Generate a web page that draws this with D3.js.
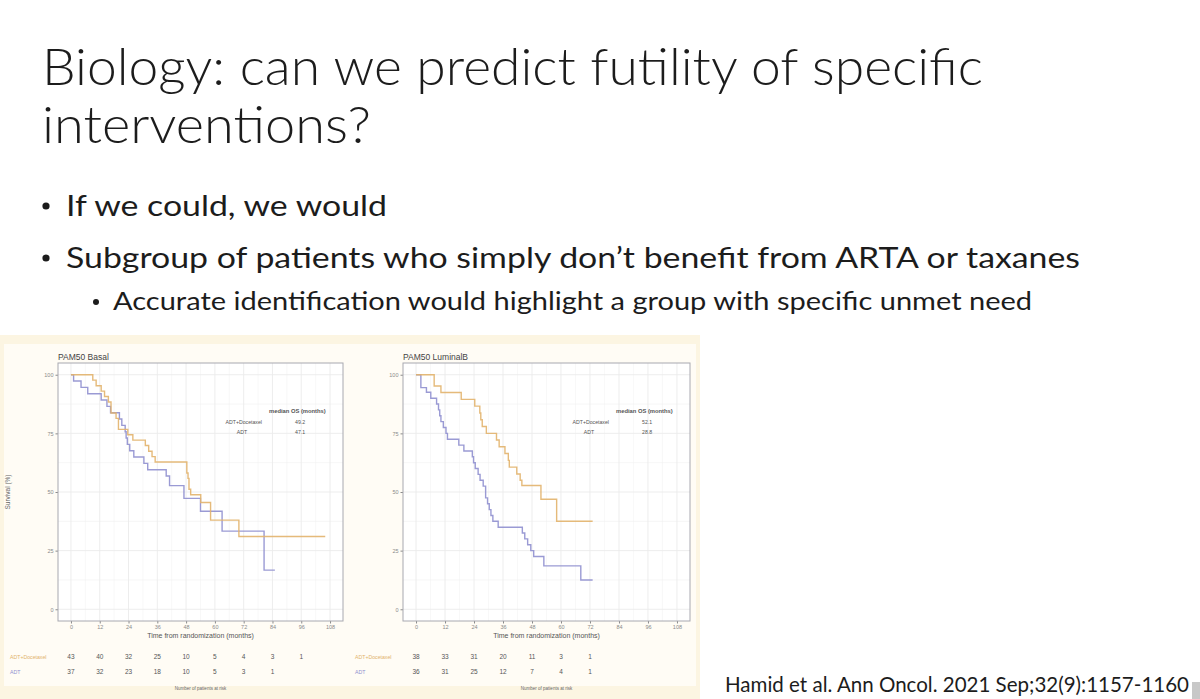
<!DOCTYPE html>
<html>
<head>
<meta charset="utf-8">
<script src="https://cdn.jsdelivr.net/npm/d3@7"></script>
<style>
  body { margin: 0; background: #fff; }
  svg { display: block; }
</style>
</head>
<body>
<script>
// ---- data ----
const xTicks = [0, 12, 24, 36, 48, 60, 72, 84, 96, 108];
const yTicks = [0, 25, 50, 75, 100];

// PAM50 Basal
const basalDocTimes = [0, 9.1, 10.5, 12.6, 14, 15.6, 16.7, 18.8, 19.8, 23.7, 25.8, 31, 32.4, 33.8, 35.1, 48.3, 48.8, 49.2, 49.9, 54.1, 58.2, 70, 106];
const basalDocSurv  = [100, 97.7, 95.3, 93, 90.7, 88.4, 83.7, 81.4, 76.7, 74.4, 72.1, 69.8, 67.4, 65.1, 62.8, 58.1, 55.8, 51.2, 48.8, 45.5, 38, 31, 31];
const basalAdtTimes = [0, 1.1, 4.2, 7, 12.6, 15, 16.5, 20.2, 21.2, 22.6, 23, 23.5, 24.5, 26.2, 30.4, 32, 39.7, 41.1, 47.1, 54, 63, 80.5, 85];
const basalAdtSurv  = [100, 97.3, 94.6, 91.9, 89.2, 86.5, 83.8, 81.1, 78.4, 75.7, 73, 70.3, 67.6, 64.9, 62.2, 59.5, 56.8, 52.7, 47.3, 41.8, 33.3, 16.7, 16.7];
const basalRiskDoc = [43, 40, 32, 25, 10, 5, 4, 3, 1];
const basalRiskAdt = [37, 32, 23, 18, 10, 5, 3, 1];
const basalMedians = ["49.2", "47.1"];

// PAM50 LuminalB
const lumbDocTimes = [0, 7.5, 10.3, 18.7, 24.3, 26.4, 26.8, 27.4, 29.1, 33.3, 34.4, 36.8, 38.2, 38.6, 41.7, 43.1, 43.8, 51.7, 58.2, 73.1];
const lumbDocSurv  = [100, 95.2, 92.4, 89.5, 86.6, 83.7, 80.8, 77.9, 75, 72.2, 69.3, 66.4, 63.5, 60.6, 57.7, 55, 52.8, 46.9, 37.5, 37.5];
const lumbAdtTimes = [0, 2, 4.3, 6.1, 8.5, 9.3, 9.8, 10.3, 11.3, 12.4, 13, 17.7, 19.8, 23.3, 23.8, 24.5, 25.7, 26.5, 27.8, 28.8, 29.6, 30.3, 31, 31.8, 34, 44, 45, 46.2, 47.5, 48.7, 52.9, 68.2, 73.1];
const lumbAdtSurv  = [100, 94.5, 92.5, 90, 87.5, 85, 82.5, 80, 77.5, 75, 72.5, 70, 67.5, 65, 62.5, 60, 57.5, 55, 52.5, 47.5, 45, 42.5, 40, 37.5, 35, 32.5, 30, 27.5, 25, 22.5, 18.5, 12.5, 12.5];
const lumbRiskDoc = [38, 33, 31, 20, 11, 3, 1];
const lumbRiskAdt = [36, 31, 25, 12, 7, 4, 1];
const lumbMedians = ["52.1", "28.8"];

const armLabels = ["ADT+Docetaxel", "ADT"];
const docColor = "#e2b26c";
const adtColor = "#8f8fcf";

const W = 1200, H = 699;
const svg = d3.select("body").append("svg")
  .attr("width", W)
  .attr("height", H);

svg.append("rect").attr("width", W).attr("height", H).attr("fill", "#fff");

// ---- slide text ----
const slideFont = "Lato, 'Open Sans', sans-serif";
const ink = "#1c1c1c";

const title = svg.append("g")
  .attr("font-family", slideFont)
  .attr("font-weight", 300)
  .attr("fill", ink)
  .attr("font-size", 51);
title.append("text").attr("x", 42).attr("y", 85)
  .attr("textLength", 941).attr("lengthAdjust", "spacingAndGlyphs")
  .text("Biology: can we predict futility of specific");
title.append("text").attr("x", 42).attr("y", 143)
  .attr("textLength", 329).attr("lengthAdjust", "spacingAndGlyphs")
  .text("interventions?");

const bullets = svg.append("g").attr("font-family", slideFont).attr("fill", ink);
bullets.append("circle").attr("cx", 46).attr("cy", 206).attr("r", 3.6).attr("fill", ink);
bullets.append("text").attr("x", 66).attr("y", 216).attr("font-size", 29)
  .attr("textLength", 321).attr("lengthAdjust", "spacingAndGlyphs")
  .text("If we could, we would");
bullets.append("circle").attr("cx", 46).attr("cy", 258).attr("r", 3.6).attr("fill", ink);
bullets.append("text").attr("x", 66).attr("y", 268).attr("font-size", 29)
  .attr("textLength", 1014).attr("lengthAdjust", "spacingAndGlyphs")
  .text("Subgroup of patients who simply don\u2019t benefit from ARTA or taxanes");
bullets.append("circle").attr("cx", 96).attr("cy", 302).attr("r", 3).attr("fill", ink);
bullets.append("text").attr("x", 113).attr("y", 310).attr("font-size", 25)
  .attr("textLength", 919).attr("lengthAdjust", "spacingAndGlyphs")
  .text("Accurate identification would highlight a group with specific unmet need");

svg.append("text")
  .attr("x", 725).attr("y", 692)
  .attr("font-family", slideFont).attr("font-size", 20.5).attr("fill", ink)
  .attr("textLength", 464).attr("lengthAdjust", "spacingAndGlyphs")
  .text("Hamid et al. Ann Oncol. 2021 Sep;32(9):1157-1160");

// small viewer icon in the corner
svg.append("rect").attr("x", 1192).attr("y", 682).attr("width", 8).attr("height", 17).attr("fill", "#c8c8c8");

// ---- embedded figure ----
svg.append("rect").attr("x", 0).attr("y", 335).attr("width", 700).attr("height", 364).attr("fill", "#fcf5e2");
svg.append("rect").attr("x", 4).attr("y", 344).attr("width", 692).attr("height", 342).attr("fill", "#fffcf5");

const plotFont = "'Liberation Sans', Arial, sans-serif";

function drawPanel(opt) {
  const x = d3.scaleLinear().domain([-5.4, 113.4]).range([opt.left, opt.right]);
  const y = d3.scaleLinear().domain([-5, 105]).range([621, 363]);
  const g = svg.append("g").attr("font-family", plotFont);

  g.append("rect")
    .attr("x", opt.left).attr("y", 363)
    .attr("width", opt.right - opt.left).attr("height", 258)
    .attr("fill", "#fff");

  // minor + major grid
  const xMinor = d3.range(6, 114, 12);
  const yMinor = [12.5, 37.5, 62.5, 87.5];
  g.selectAll(".vminor").data(xMinor).join("line")
    .attr("x1", d => x(d)).attr("x2", d => x(d)).attr("y1", 363).attr("y2", 621)
    .attr("stroke", "#f3f3f3").attr("stroke-width", 0.6);
  g.selectAll(".hminor").data(yMinor).join("line")
    .attr("y1", d => y(d)).attr("y2", d => y(d)).attr("x1", opt.left).attr("x2", opt.right)
    .attr("stroke", "#f0f0f0").attr("stroke-width", 0.6);
  g.selectAll(".vmajor").data(xTicks).join("line")
    .attr("x1", d => x(d)).attr("x2", d => x(d)).attr("y1", 363).attr("y2", 621)
    .attr("stroke", "#ebebeb").attr("stroke-width", 0.9);
  g.selectAll(".hmajor").data(yTicks).join("line")
    .attr("y1", d => y(d)).attr("y2", d => y(d)).attr("x1", opt.left).attr("x2", opt.right)
    .attr("stroke", "#ebebeb").attr("stroke-width", 0.9);

  // axes
  const xAxis = g.append("g").attr("transform", "translate(0,621)")
    .call(d3.axisBottom(x).tickValues(xTicks).tickSize(2.5).tickPadding(2));
  const yAxis = g.append("g").attr("transform", `translate(${opt.left},0)`)
    .call(d3.axisLeft(y).tickValues(yTicks).tickSize(2.5).tickPadding(2));
  [xAxis, yAxis].forEach(a => {
    a.select(".domain").remove();
    a.selectAll(".tick line").attr("stroke", "#8a8a8a");
    a.selectAll(".tick text").attr("fill", "#8a8a8a").attr("font-size", 5.5).attr("font-family", plotFont);
  });

  g.append("rect")
    .attr("x", opt.left).attr("y", 363)
    .attr("width", opt.right - opt.left).attr("height", 258)
    .attr("fill", "none").attr("stroke", "#a8a8b0").attr("stroke-width", 1);

  // curves
  const line = d3.line().curve(d3.curveStepAfter).x(d => x(d[0])).y(d => y(d[1]));
  const curves = [
    { t: opt.adtTimes, s: opt.adtSurv, c: adtColor },
    { t: opt.docTimes, s: opt.docSurv, c: docColor }
  ];
  curves.forEach(cv => {
    g.append("path")
      .datum(cv.t.map((t, i) => [t, cv.s[i]]))
      .attr("d", line)
      .attr("fill", "none")
      .attr("stroke", cv.c)
      .attr("stroke-width", 1.4)
      .attr("stroke-opacity", 0.9);
  });

  // titles
  g.append("text").attr("x", opt.left).attr("y", 360)
    .attr("font-size", 8.5).attr("fill", "#444").text(opt.title);
  g.append("text").attr("x", (x(0) + x(108)) / 2).attr("y", 638)
    .attr("text-anchor", "middle").attr("font-size", 7).attr("fill", "#555")
    .text("Time from randomization (months)");
  if (opt.yTitle) {
    g.append("text")
      .attr("transform", `translate(10,${y(50)}) rotate(-90)`)
      .attr("text-anchor", "middle").attr("font-size", 6.5).attr("fill", "#666")
      .text("Survival (%)");
  }

  // median table
  const tx = opt.right;
  g.append("text").attr("x", tx - 74).attr("y", 413).attr("font-size", 5.8)
    .attr("font-weight", "bold").attr("fill", "#555").text("median OS (months)");
  [0, 1].forEach(i => {
    g.append("text").attr("x", tx - 81).attr("y", 424 + i * 10)
      .attr("text-anchor", i === 0 ? "end" : "middle")
      .attr("dx", i === 0 ? 0 : -20)
      .attr("font-size", 5.2).attr("fill", "#555").text(armLabels[i]);
    g.append("text").attr("x", tx - 48).attr("y", 424 + i * 10)
      .attr("font-size", 5.2).attr("fill", "#555").text(opt.medians[i]);
  });

  // risk table
  const rows = [
    { vals: opt.riskDoc, c: docColor, yy: 659 },
    { vals: opt.riskAdt, c: adtColor, yy: 674 }
  ];
  rows.forEach((r, i) => {
    g.append("text").attr("x", opt.left - 48).attr("y", r.yy)
      .attr("font-size", 5.2).attr("fill", r.c).text(armLabels[i]);
    g.selectAll(null).data(r.vals).join("text")
      .attr("x", (d, j) => x(xTicks[j])).attr("y", r.yy)
      .attr("text-anchor", "middle").attr("font-size", 6.5).attr("fill", "#555")
      .text(d => d);
  });
  g.append("text").attr("x", (x(0) + x(108)) / 2).attr("y", 690)
    .attr("text-anchor", "middle").attr("font-size", 4.5).attr("fill", "#666")
    .text("Number of patients at risk");
}

drawPanel({
  left: 58, right: 343, title: "PAM50 Basal", yTitle: true,
  docTimes: basalDocTimes, docSurv: basalDocSurv,
  adtTimes: basalAdtTimes, adtSurv: basalAdtSurv,
  riskDoc: basalRiskDoc, riskAdt: basalRiskAdt, medians: basalMedians
});
drawPanel({
  left: 403, right: 690, title: "PAM50 LuminalB", yTitle: false,
  docTimes: lumbDocTimes, docSurv: lumbDocSurv,
  adtTimes: lumbAdtTimes, adtSurv: lumbAdtSurv,
  riskDoc: lumbRiskDoc, riskAdt: lumbRiskAdt, medians: lumbMedians
});
</script>
</body>
</html>
